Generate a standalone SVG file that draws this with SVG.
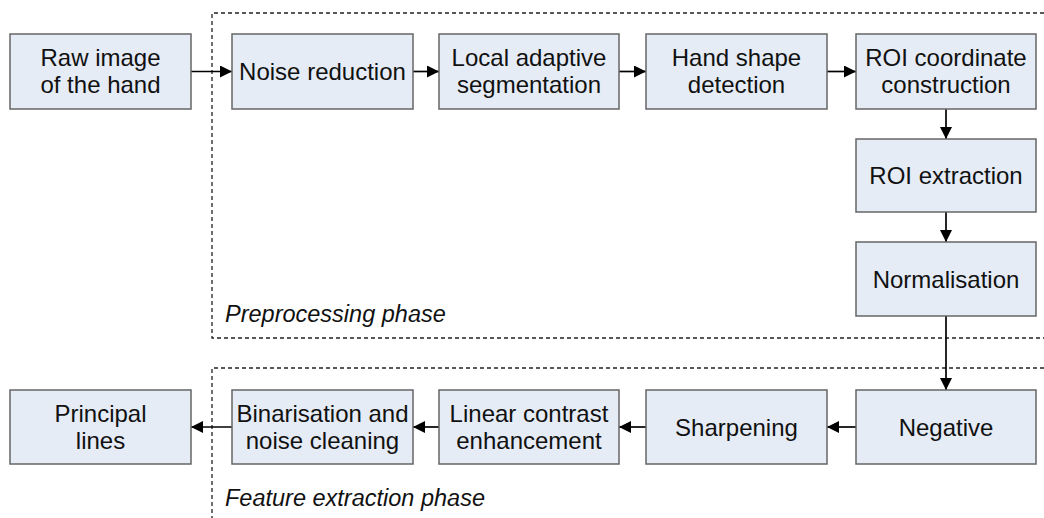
<svg xmlns="http://www.w3.org/2000/svg" width="1044" height="518" viewBox="0 0 1044 518">
  <style>
    .box { fill: #E6ECF6; stroke: #666666; stroke-width: 1.5; }
    .lbl { font-family: "Liberation Sans", Arial, sans-serif; font-size: 24px; fill: #111111; text-anchor: middle; }
    .phase { font-family: "Liberation Sans", Arial, sans-serif; font-size: 23.5px; font-style: italic; fill: #111111; }
    .zone { fill: none; stroke: #222222; stroke-width: 1.3; stroke-dasharray: 4 3; }
    .edge { fill: none; stroke: #000000; stroke-width: 1.7; marker-end: url(#head); }
  </style>
  <defs>
    <marker id="head" viewBox="0 0 12 12" refX="12" refY="6" markerWidth="12" markerHeight="12" markerUnits="userSpaceOnUse" orient="auto">
      <path d="M0,0 L12,6 L0,12 Z" fill="#000000"/>
    </marker>
  </defs>

  <!-- phase regions (open on the right edge) -->
  <g id="phases">
    <path class="zone" d="M1044,13 H212 V338 H1044"/>
    <path class="zone" d="M1044,368 H212 V518"/>
    <text class="phase" x="225" y="322">Preprocessing phase</text>
    <text class="phase" x="225" y="506">Feature extraction phase</text>
  </g>

  <!-- connectors -->
  <g id="connectors">
    <path class="edge" d="M191,71.5 H232"/>
    <path class="edge" d="M413,71.5 H439"/>
    <path class="edge" d="M619,71.5 H646"/>
    <path class="edge" d="M827,71.5 H856"/>
    <path class="edge" d="M946,109 V139"/>
    <path class="edge" d="M946,212 V242"/>
    <path class="edge" d="M946,316 V390"/>
    <path class="edge" d="M856,427 H827"/>
    <path class="edge" d="M646,427 H619"/>
    <path class="edge" d="M439,427 H413"/>
    <path class="edge" d="M232,427 H191"/>
  </g>

  <!-- top row -->
  <g id="raw-image">
    <rect class="box" x="10" y="34" width="181" height="75"/>
    <text class="lbl" x="100.5" y="66">Raw image</text>
    <text class="lbl" x="100.5" y="93">of the hand</text>
  </g>
  <g id="noise-reduction">
    <rect class="box" x="232" y="34" width="181" height="75"/>
    <text class="lbl" x="322.5" y="80">Noise reduction</text>
  </g>
  <g id="local-adaptive-segmentation">
    <rect class="box" x="439" y="34" width="180" height="75"/>
    <text class="lbl" x="529" y="66">Local adaptive</text>
    <text class="lbl" x="529" y="93">segmentation</text>
  </g>
  <g id="hand-shape-detection">
    <rect class="box" x="646" y="34" width="181" height="75"/>
    <text class="lbl" x="736.5" y="66">Hand shape</text>
    <text class="lbl" x="736.5" y="93">detection</text>
  </g>
  <g id="roi-coordinate-construction">
    <rect class="box" x="856" y="34" width="180" height="75"/>
    <text class="lbl" x="946" y="66">ROI coordinate</text>
    <text class="lbl" x="946" y="93">construction</text>
  </g>

  <!-- right column -->
  <g id="roi-extraction">
    <rect class="box" x="856" y="139" width="180" height="73"/>
    <text class="lbl" x="946" y="184">ROI extraction</text>
  </g>
  <g id="normalisation">
    <rect class="box" x="856" y="242" width="180" height="74"/>
    <text class="lbl" x="946" y="287.5">Normalisation</text>
  </g>

  <!-- bottom row -->
  <g id="negative">
    <rect class="box" x="856" y="390" width="180" height="74"/>
    <text class="lbl" x="946" y="435.5">Negative</text>
  </g>
  <g id="sharpening">
    <rect class="box" x="646" y="390" width="181" height="74"/>
    <text class="lbl" x="736.5" y="435.5">Sharpening</text>
  </g>
  <g id="linear-contrast-enhancement">
    <rect class="box" x="439" y="390" width="180" height="74"/>
    <text class="lbl" x="529" y="421.5">Linear contrast</text>
    <text class="lbl" x="529" y="448.5">enhancement</text>
  </g>
  <g id="binarisation-noise-cleaning">
    <rect class="box" x="232" y="390" width="181" height="74"/>
    <text class="lbl" x="322.5" y="421.5">Binarisation and</text>
    <text class="lbl" x="322.5" y="448.5">noise cleaning</text>
  </g>
  <g id="principal-lines">
    <rect class="box" x="10" y="390" width="181" height="74"/>
    <text class="lbl" x="100.5" y="421.5">Principal</text>
    <text class="lbl" x="100.5" y="448.5">lines</text>
  </g>
</svg>
